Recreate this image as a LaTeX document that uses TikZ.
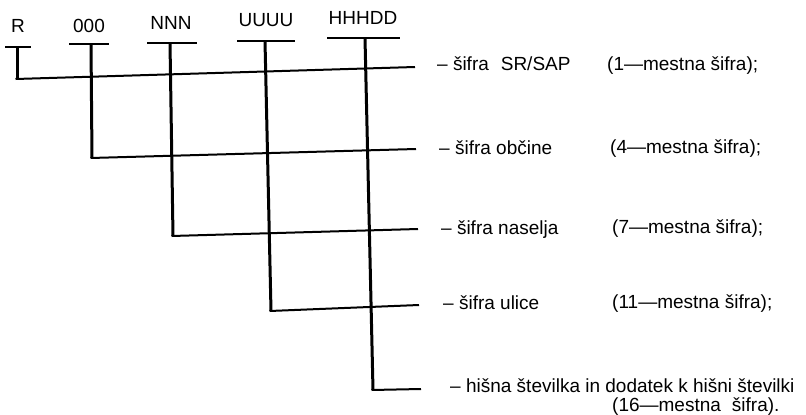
\documentclass[tikz,border=0pt]{standalone}
\usepackage{fontspec}
\setmainfont{Liberation Sans}
\begin{document}
\begin{tikzpicture}[x=1pt,y=-1pt,
  code/.style={inner sep=0pt,anchor=base,font=\fontsize{19}{23}\selectfont},
  desc/.style={inner sep=0pt,anchor=base west,font=\fontsize{19}{23}\selectfont},
  tbar/.style={line width=2.4pt,line cap=butt},
  stem/.style={line width=3pt},
  rail/.style={line width=2pt}]
\useasboundingbox (0,0) rectangle (806,415);
% top code labels
\node[code] (tR) at (18,32) {R};
\node[code] (tO) at (89,32) {000};
\node[code] (tN) at (171,29) {NNN};
\node[code] (tU) at (266,27) {UUUU};
\node[code] (tH) at (363,24) {HHHDD};
% T-bar ends
\coordinate (bRl) at (5,47);   \coordinate (bRr) at (31,47);
\coordinate (bOl) at (69,44);  \coordinate (bOr) at (109,44);
\coordinate (bNl) at (147,43); \coordinate (bNr) at (197,43);
\coordinate (bUl) at (237,41); \coordinate (bUr) at (295,41);
\coordinate (bHl) at (327,38); \coordinate (bHr) at (400,38);
% stem tops
\coordinate (sR) at (17,47);
\coordinate (sO) at (91,44);
\coordinate (sN) at (170,43);
\coordinate (sU) at (265,41);
\coordinate (sH) at (365,38);
% rail corners (left) and ends (right)
\coordinate (cR) at (17,79);  \coordinate (eR) at (415,67);
\coordinate (cO) at (92,158); \coordinate (eO) at (416,149);
\coordinate (cN) at (173,236);\coordinate (eN) at (418,229);
\coordinate (cU) at (271,311);\coordinate (eU) at (419,305);
\coordinate (cH) at (373,390);\coordinate (eH) at (421,389);
% descriptions
\node[desc] (dR) at (437,70) {– šifra\hspace{0.35em} SR/SAP};
\node[desc] (dO) at (439,154) {– šifra občine};
\node[desc] (dN) at (441,234) {– šifra naselja};
\node[desc] (dU) at (443,309) {– šifra ulice};
\node[desc] (dH) at (450,392) {– hišna številka in dodatek k hišni številki};
\node[desc] (nR) at (607,70) {(1—mestna šifra);};
\node[desc] (nO) at (610,153) {(4—mestna šifra);};
\node[desc] (nN) at (612,233) {(7—mestna šifra);};
\node[desc] (nU) at (612,308) {(11—mestna šifra);};
\node[desc] (nH) at (612,411) {(16—mestna\hspace{0.3em} šifra).};
% bars
\foreach \a in {R,O,N,U,H} {\draw[tbar] (b\a l) -- (b\a r);}
% stems
\foreach \a in {R,O,N,U,H} {\draw[stem] (s\a) -- (c\a);}
% rails
\foreach \a in {R,O,N,U,H} {\draw[rail] ([xshift=-1.5pt]c\a) -- (e\a);}
\end{tikzpicture}
\end{document}
